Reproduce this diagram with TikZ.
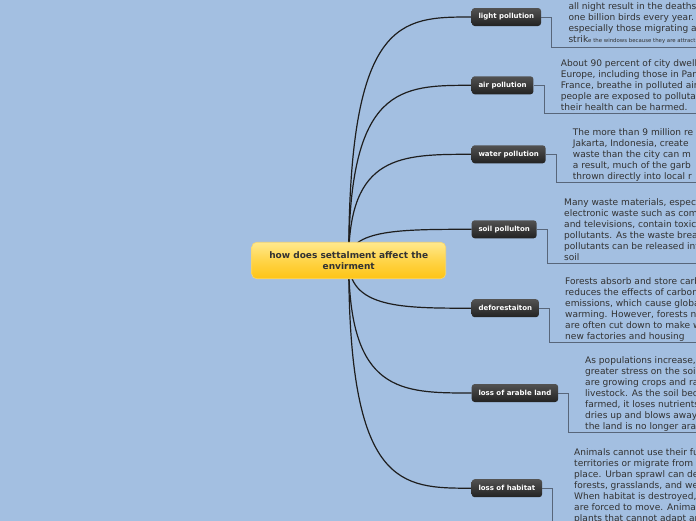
\documentclass[tikz,border=0pt]{standalone}
\usepackage{fontspec}
\setmainfont{DejaVu Sans}
\usetikzlibrary{calc,backgrounds}
\definecolor{bgblue}{RGB}{163,191,225}
\definecolor{nodetop}{RGB}{82,82,82}
\definecolor{nodebot}{RGB}{34,34,34}
\definecolor{ctop}{RGB}{255,233,142}
\definecolor{cmid}{RGB}{255,212,72}
\definecolor{cbot}{RGB}{254,196,20}
\definecolor{cedge}{RGB}{248,214,110}
\definecolor{txtcol}{RGB}{50,50,50}
\definecolor{conncol}{RGB}{30,30,30}
\definecolor{subcol}{RGB}{88,102,122}
\begin{document}
\begin{tikzpicture}[x=1pt,y=-1pt,
  branch/.style={anchor=west, rounded corners=3pt, top color=nodetop, bottom color=nodebot,
    draw=none, text=white, font=\fontsize{7}{8}\selectfont\bfseries,
    minimum height=18pt, inner xsep=6.8pt, inner ysep=0pt},
  central/.style={rounded corners=5pt, top color=ctop, bottom color=cbot, middle color=cmid,
    draw=cedge, line width=0.6pt, minimum width=194pt, minimum height=36.5pt, align=center,
    text=txtcol, font=\fontsize{9}{10.4}\selectfont\bfseries},
  txt/.style={anchor=north west, inner sep=0pt, align=left, text=txtcol,
    font=\fontsize{9.05}{11}\selectfont},
  conn/.style={draw=conncol, line width=1.2pt},
  sub/.style={draw=subcol, line width=0.9pt}]
\useasboundingbox (0,0) rectangle (696,520);
\clip (0,0) rectangle (696,520);

\node[central] (c) at (348.7,260.5) {how does settalment affect the\\envirment};

\node[branch] (lp) at (471.5,17) {light pollution};
\node[branch] (ap) at (471.5,85.3) {air pollution};
\node[branch] (wp) at (471.5,154.3) {water pollution};
\node[branch] (sp) at (471.5,229.3) {soil pollulton};
\node[branch] (df) at (471.5,308.2) {deforestaiton};
\node[branch] (al) at (471.5,393) {loss of arable land};
\node[branch] (lh) at (471.5,488.2) {loss of habitat};

\node[txt] (tlp) at (568.3,2.5) {all night result in the deaths\\one billion birds every year.\\especially those migrating at\\strik{\fontsize{5.4}{6}\selectfont e the windows because they are attract}};
\node[txt] (tap) at (560.7,59.5) {About 90 percent of city dwell\\Europe, including those in Par\\France, breathe in polluted air\\people are exposed to pollutan\\their health can be harmed.};
\node[txt] (twp) at (572.7,128.5) {The more than 9 million re\\Jakarta, Indonesia, create\\waste than the city can m\\a result, much of the garb\\thrown directly into local r};
\node[txt] (tsp) at (564,198.8) {Many waste materials, especi\\electronic waste such as com\\and televisions, contain toxic\\pollutants. As the waste brea\\pollutants can be released int\\soil};
\node[txt] (tdf) at (565,277.9) {Forests absorb and store carb\\reduces the effects of carbon\\emissions, which cause globa\\warming. However, forests n\\are often cut down to make w\\new factories and housing};
\node[txt] (tal) at (585,356.2) {As populations increase,\\greater stress on the soil\\are growing crops and ra\\livestock. As the soil bec\\farmed, it loses nutrients\\dries up and blows away\\the land is no longer ara};
\node[txt] (tlh) at (574,448) {Animals cannot use their full\\territories or migrate from p\\place. Urban sprawl can des\\forests, grasslands, and wet\\When habitat is destroyed, a\\are forced to move. Animals\\plants that cannot adapt are};

\begin{scope}[on background layer]
\fill[bgblue] (-5,-5) rectangle (701,525);
\foreach \b in {lp,ap,wp,sp,df,al,lh}{
  \draw[conn] (c.center) .. controls (c.center |- \b.west) and ($(c.center |- \b.west)+(52,0)$) .. (\b.west);
}
\end{scope}

\draw[sub] (lp.east) -| (551.7,47.8) -- (700,47.8);
\draw[sub] (ap.east) -| (544.3,113.5) -- (700,113.5);
\draw[sub] (wp.east) -| (556.7,182.5) -- (700,182.5);
\draw[sub] (sp.east) -| (547.3,263.5) -- (700,263.5);
\draw[sub] (df.east) -| (549.3,342.8) -- (700,342.8);
\draw[sub] (al.east) -| (568.3,432.7) -- (700,432.7);
\draw[sub] (lh.east) -| (552.7,530);
\end{tikzpicture}
\end{document}
